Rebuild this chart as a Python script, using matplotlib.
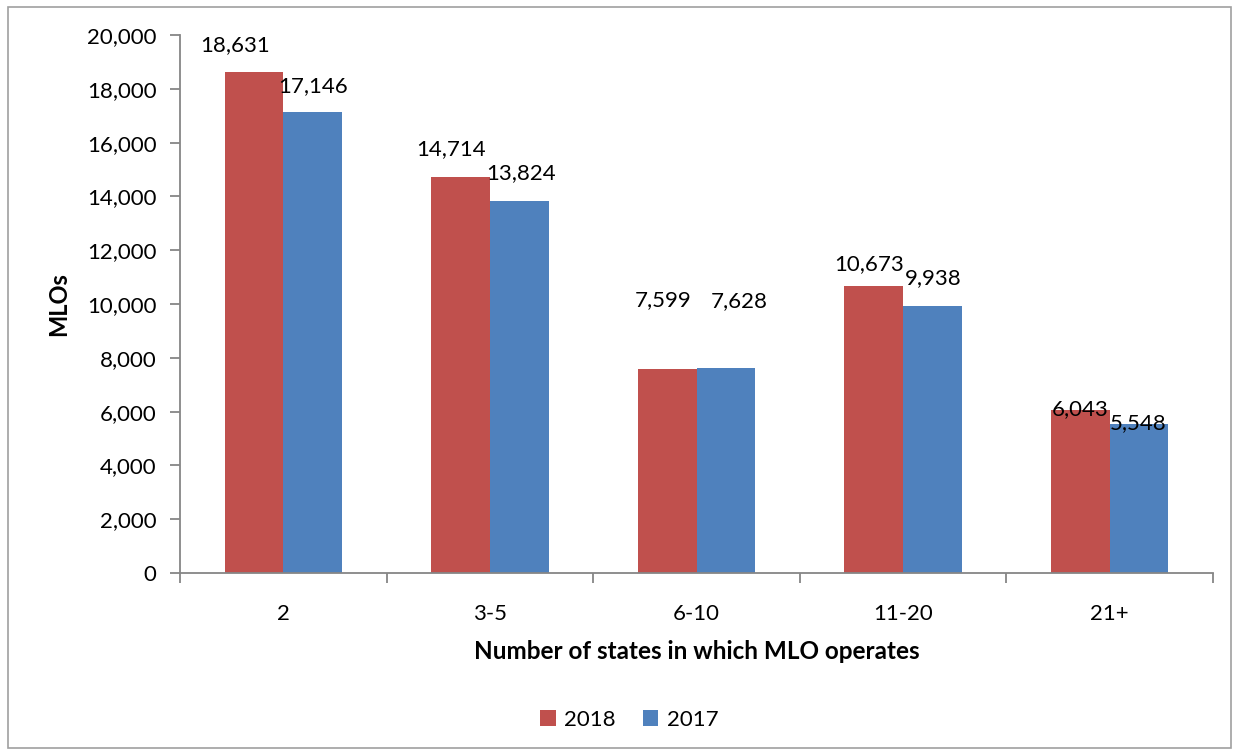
import numpy as np
import matplotlib.pyplot as plt
from matplotlib.patches import Rectangle
from matplotlib.ticker import FuncFormatter

plt.rcParams['font.family'] = ['Lato', 'DejaVu Sans']

categories = ['2', '3-5', '6-10', '11-20', '21+']
mlo_2018 = [18631, 14714, 7599, 10673, 6043]
mlo_2017 = [17146, 13824, 7628, 9938, 5548]

# hand-placed data label offsets (pixels) as in the source chart
off_2018 = [(-19, 27), (-10, 28), (-4, 69), (-5, 22), (0, 1)]
off_2017 = [(0, 26), (2, 28), (13, 67), (1, 28), (-1, 1)]

red = '#C0504D'
blue = '#4F81BD'
grey = '#868686'

fig = plt.figure(figsize=(12.39, 7.55), dpi=100)
ax = fig.add_axes([0.1453, 0.241, 0.8337, 0.7126])

x = np.arange(len(categories))
w = 0.284
b1 = ax.bar(x - w / 2, mlo_2018, w, color=red, label='2018')
b2 = ax.bar(x + w / 2, mlo_2017, w, color=blue, label='2017')

for bars, vals, offs in [(b1, mlo_2018, off_2018), (b2, mlo_2017, off_2017)]:
    for bar, v, (dx, dy) in zip(bars, vals, offs):
        ax.annotate(f'{v:,}', (bar.get_x() + bar.get_width() / 2, v),
                    xytext=(dx, dy), textcoords='offset pixels',
                    ha='center', va='center', fontsize=16)

ax.set_xlim(-0.5, len(categories) - 0.5)
ax.set_ylim(0, 20000)
ax.set_yticks(np.arange(0, 20001, 2000))
ax.yaxis.set_major_formatter(FuncFormatter(lambda v, p: f'{int(v):,}'))

ax.set_xticks(np.arange(-0.5, len(categories), 1))
ax.set_xticklabels([])
ax.set_xticks(x, minor=True)
ax.set_xticklabels(categories, minor=True)
ax.tick_params(axis='x', which='minor', length=0, pad=22, labelsize=16)
ax.tick_params(axis='x', which='major', length=7, color=grey, width=1.3)
ax.tick_params(axis='y', length=7, color=grey, width=1.3, pad=10, labelsize=16)

for s in ['top', 'right']:
    ax.spines[s].set_visible(False)
for s in ['left', 'bottom']:
    ax.spines[s].set_color(grey)
    ax.spines[s].set_linewidth(1.3)

ax.set_ylabel('MLOs', fontsize=17, fontweight='bold', labelpad=12)
ax.set_xlabel('Number of states in which MLO operates', fontsize=17.5,
              fontweight='bold', labelpad=12)

fig.legend(handles=[b1, b2], loc='center', bbox_to_anchor=(0.508, 0.047),
           ncol=2, frameon=False, fontsize=16, handlelength=0.7,
           handleheight=0.7, columnspacing=1.2, handletextpad=0.4)

fig.patches.append(Rectangle((0.0065, 0.009), 0.987, 0.982,
                             transform=fig.transFigure, fill=False,
                             edgecolor='#A0A0A0', linewidth=1.2))

fig.savefig('out.png', dpi=100)
